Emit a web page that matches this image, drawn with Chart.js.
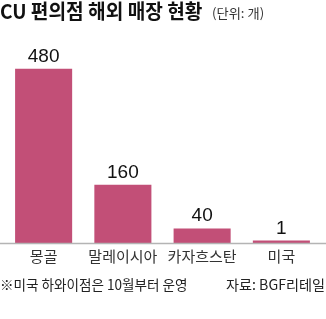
<!DOCTYPE html>
<html><head><meta charset="utf-8">
<script src="https://cdn.jsdelivr.net/npm/chart.js@4"></script>
<style>
html,body{margin:0;padding:0;background:#fff;}
#wrap{position:relative;width:326px;height:319px;overflow:hidden;}
#c{position:absolute;left:0;top:0;}
.t{position:absolute;white-space:nowrap;transform-origin:0 0;font-family:"Noto Sans CJK KR","Noto Sans",sans-serif;}
#title{left:0;top:1px;font-size:20px;font-weight:700;line-height:20px;color:#111;}
#unit{left:212px;top:5px;font-size:13px;font-weight:400;line-height:16px;color:#333;}
#note{left:0;top:275px;font-size:14px;line-height:18px;color:#222;}
#src{left:226px;top:275px;font-size:14px;line-height:18px;color:#222;}
</style></head>
<body><div id="wrap">
<canvas id="c" width="326" height="319"></canvas>
<div class="t" id="title">CU 편의점 해외 매장 현황</div>
<div class="t" id="unit">(단위: 개)</div>
<div class="t" id="note">※미국 하와이점은 10월부터 운영</div>
<div class="t" id="src">자료: BGF리테일</div>
</div>
<script>
const categories = ["몽골", "말레이시아", "카자흐스탄", "미국"];
const stores = [480, 160, 40, 1];
const valueLabels = ["480", "160", "40", "1"];

function fit(id, w){ const el=document.getElementById(id); const ow=el.offsetWidth; el.style.transform='scaleX('+(w/ow)+')'; }
fit('title', 202); fit('unit', 52); fit('note', 188); fit('src', 99);

const axisLine = {
  id:'axisLine',
  afterDatasetsDraw(chart){
    const ctx=chart.ctx, y=chart.scales.y.getPixelForValue(0);
    ctx.save(); ctx.strokeStyle='#b4b4b4'; ctx.lineWidth=1.5;
    ctx.beginPath(); ctx.moveTo(0,y+0.5); ctx.lineTo(chart.width,y+0.5); ctx.stroke(); ctx.restore();
    const meta=chart.getDatasetMeta(0);
    ctx.save(); ctx.fillStyle='#111'; ctx.font='19px "Liberation Sans", Arial, sans-serif';
    ctx.textAlign='center'; ctx.textBaseline='alphabetic';
    meta.data.forEach((b,i)=>{ ctx.fillText(valueLabels[i], b.x, b.y-7); });
    ctx.restore();
  }
};

new Chart(document.getElementById('c'), {
  type:'bar',
  data:{labels:categories, datasets:[{data:stores, backgroundColor:'#c24f77', borderWidth:0, barPercentage:0.72, categoryPercentage:1, minBarLength:2.5}]},
  options:{
    responsive:false, animation:false,
    layout:{padding:{left:4, right:5, top:68.5, bottom:0}},
    plugins:{legend:{display:false}, tooltip:{enabled:false}, title:{display:false}},
    scales:{
      x:{grid:{display:false, drawTicks:false}, border:{display:false},
         ticks:{color:'#333', font:{family:'"Noto Sans CJK KR", sans-serif', size:15}, padding:4, maxRotation:0, autoSkip:false},
         afterFit(s){ s.height=76; }},
      y:{display:false, min:0, max:480}
    }
  },
  plugins:[axisLine]
});
</script>
</body></html>
